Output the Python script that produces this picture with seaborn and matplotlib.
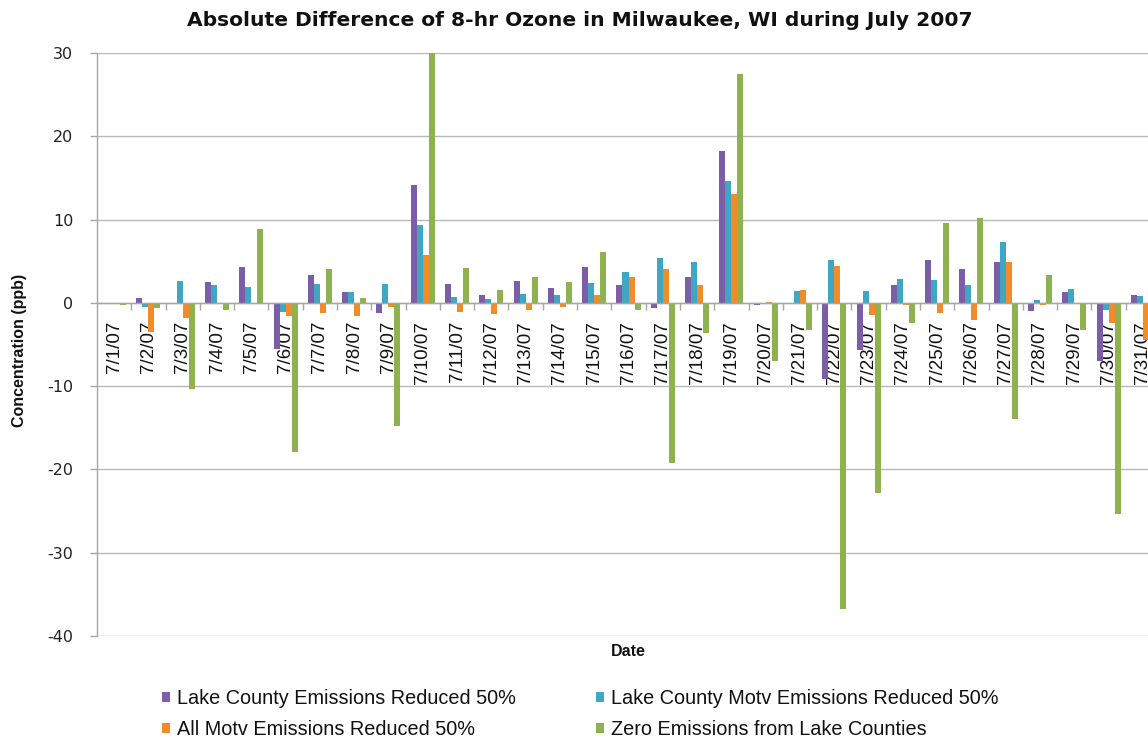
import numpy as np
import pandas as pd
import seaborn as sns
import matplotlib.pyplot as plt
from matplotlib.patches import Patch
from matplotlib.ticker import FixedLocator

# Daily change in 8-hr ozone (ppb) for each emission scenario, July 2007
dates = ["7/1/07", "7/2/07", "7/3/07", "7/4/07", "7/5/07", "7/6/07", "7/7/07",
         "7/8/07", "7/9/07", "7/10/07", "7/11/07", "7/12/07", "7/13/07", "7/14/07",
         "7/15/07", "7/16/07", "7/17/07", "7/18/07", "7/19/07", "7/20/07", "7/21/07",
         "7/22/07", "7/23/07", "7/24/07", "7/25/07", "7/26/07", "7/27/07", "7/28/07",
         "7/29/07", "7/30/07", "7/31/07"]

lake_county_50 = [-0.1, 0.6, -0.1, 2.5, 4.3, -5.6, 3.3, 1.3, -1.2, 14.1, 2.3, 1.0,
                  2.6, 1.8, 4.3, 2.1, -0.6, 3.1, 18.2, -0.2, -0.1, -9.2, -5.7, 2.2,
                  5.2, 4.1, 4.9, -1.0, 1.3, -7.0, 1.0]
lake_county_motv_50 = [-0.1, -0.5, 2.6, 2.2, 1.9, -1.1, 2.3, 1.3, 2.3, 9.4, 0.7, 0.5,
                       1.1, 0.9, 2.4, 3.7, 5.4, 4.9, 14.6, -0.1, 1.4, 5.1, 1.4, 2.9,
                       2.7, 2.1, 7.3, 0.3, 1.7, -0.8, 0.8]
all_motv_50 = [-0.05, -3.5, -1.8, -0.1, -0.1, -1.6, -1.2, -1.6, -0.5, 5.8, -1.1, -1.3,
               -0.9, -0.5, 0.9, 3.1, 4.1, 2.1, 13.1, 0.1, 1.6, 4.4, -1.4, -0.3,
               -1.2, -2.0, 4.9, -0.3, -0.1, -2.4, -4.4]
zero_lake_counties = [-0.3, -0.6, -10.4, -0.8, 8.9, -17.9, 4.1, 0.6, -14.8, 30.0, 4.2,
                      1.5, 3.1, 2.5, 6.1, -0.8, -19.2, -3.6, 27.5, -7.0, -3.2, -36.8,
                      -22.8, -2.4, 9.6, 10.2, -13.9, 3.4, -3.2, -25.3, -1.5]

scenarios = ["Lake County Emissions Reduced 50%",
             "Lake County Motv Emissions Reduced 50%",
             "All Motv Emissions Reduced 50%",
             "Zero Emissions from Lake Counties"]
colors = ["#7B5EA7", "#3FA6C4", "#F28C28", "#8FB251"]

df = pd.DataFrame({"Date": dates,
                   scenarios[0]: lake_county_50,
                   scenarios[1]: lake_county_motv_50,
                   scenarios[2]: all_motv_50,
                   scenarios[3]: zero_lake_counties})
long_df = df.melt(id_vars="Date", var_name="Scenario", value_name="ppb")

sns.set_theme(style="white")
plt.rcParams["axes.unicode_minus"] = False
plt.rcParams["font.family"] = ["DejaVu Sans"]

W, H = 1148, 740
fig = plt.figure(figsize=(W / 100, H / 100), dpi=100)
fig.patch.set_facecolor("white")

# plot area: left edge at x=97px, y=30 at 53px, y=-40 at 636px; runs past the right edge
left, right, top, bottom = 97, 1160, 53, 636
ax = fig.add_axes([left / W, 1 - bottom / H, (right - left) / W, (bottom - top) / H])

sns.barplot(data=long_df, x="Date", y="ppb", hue="Scenario", hue_order=scenarios,
            order=dates, palette=colors, saturation=1, width=0.70, errorbar=None,
            legend=False, ax=ax, zorder=2, linewidth=0, edgecolor="none")

ax.set_ylim(-40, 30)
ax.set_xlim(-0.5, len(dates) - 0.5)
ax.set_yticks(np.arange(-40, 31, 10))
ax.yaxis.grid(True, color="#B8B8B8", linewidth=1.0, zorder=0)
ax.set_axisbelow(True)

for s in ("top", "right"):
    ax.spines[s].set_visible(False)
ax.spines["left"].set_color("#A6A6A6")
ax.spines["bottom"].set_color("#A6A6A6")
ax.spines["bottom"].set_position(("data", 0))
ax.spines["left"].set_linewidth(1.0)
ax.spines["bottom"].set_linewidth(1.0)

# category labels at centres, tick marks at category boundaries
ax.set_xticks(range(len(dates)))
ax.set_xticklabels(dates, rotation=90, fontfamily="Liberation Sans", fontsize=13.5,
                   color="#111111")
ax.xaxis.set_minor_locator(FixedLocator(np.arange(0.5, len(dates), 1.0)))
ax.tick_params(axis="x", which="major", length=0, pad=13)
ax.tick_params(axis="x", which="minor", length=5, width=1, color="#A6A6A6",
               direction="out", bottom=True)
ax.tick_params(axis="y", which="major", length=5, width=1, color="#A6A6A6",
               direction="out", left=True, pad=12, labelsize=11.5, labelcolor="#222222")
ax.set_xlabel("")
ax.set_ylabel("")

fig.text(580 / W, 1 - 21 / H,
         "Absolute Difference of 8-hr Ozone in Milwaukee, WI during July 2007",
         ha="center", va="center", fontsize=14.6, fontweight="bold", color="#111111")
fig.text(20 / W, 1 - 350 / H, "Concentration (ppb)", rotation=90, ha="center",
         va="center", fontsize=11.5, fontweight="bold", fontfamily="Liberation Sans",
         color="#111111")
fig.text(628 / W, 1 - 652 / H, "Date", ha="center", va="center", fontsize=11.5,
         fontweight="bold", fontfamily="Liberation Sans", color="#111111")

# two-column legend, filled row by row
handles = [Patch(facecolor=c, edgecolor="none") for c in colors]
legend_kw = dict(frameon=False, loc="upper left", borderpad=0, borderaxespad=0,
                 handlelength=0.4, handleheight=0.4, handletextpad=0.35,
                 labelspacing=0.62, prop={"family": "Liberation Sans", "size": 14.3})
for col, x_px in ((0, 162), (1, 596)):
    idx = [col, col + 2]
    leg = fig.legend([handles[i] for i in idx], [scenarios[i] for i in idx],
                     bbox_to_anchor=(x_px / W, 1 - 689 / H), **legend_kw)
    for t in leg.get_texts():
        t.set_color("#111111")

fig.savefig("out.png", dpi=100, facecolor="white")
